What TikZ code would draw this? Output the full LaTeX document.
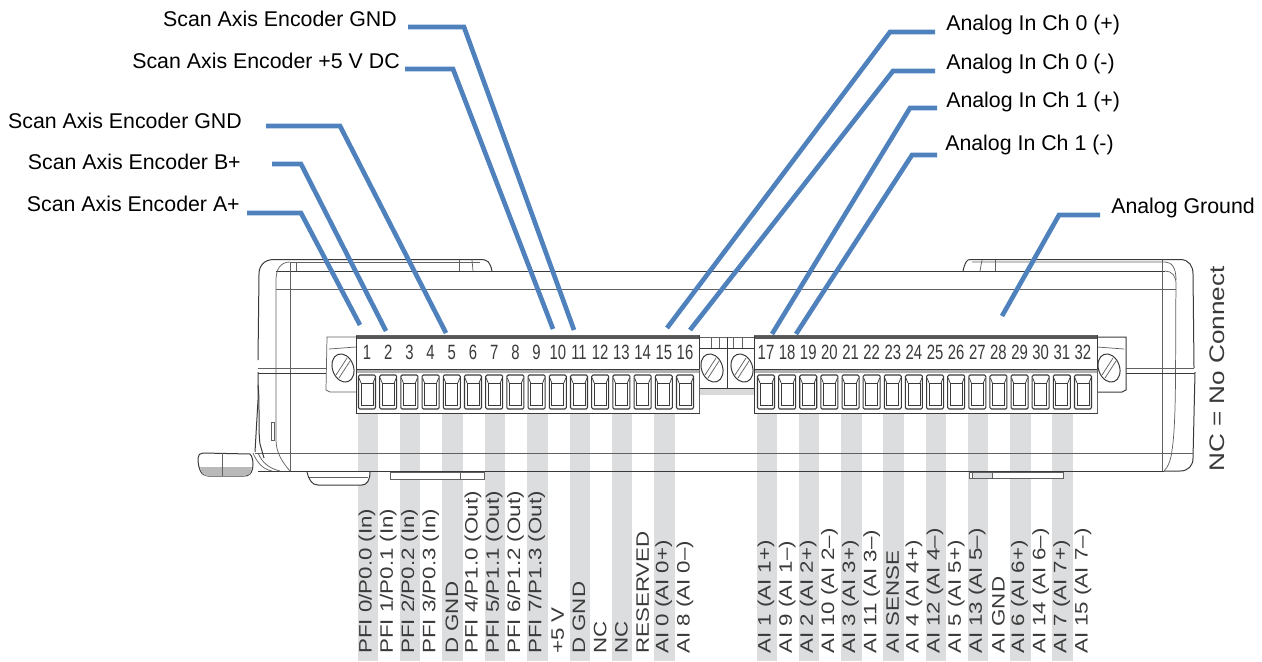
\documentclass[tikz,border=0pt]{standalone}
\usepackage{graphicx}
\usepackage{fontspec}
\setmainfont{Liberation Sans}
\definecolor{bandgray}{HTML}{DCDDDE}
\definecolor{leadblue}{HTML}{4F81BD}
\definecolor{inkgray}{HTML}{3A3A3A}
\newcommand{\stretchlab}[1]{\scalebox{1.24}[1]{#1}}
\newcommand{\pinnum}[1]{\scalebox{0.72}[1]{#1}}
\tikzset{
  lead/.style={draw=leadblue,line width=3.5pt},
  callout/.style={font=\fontsize{16pt}{18pt}\selectfont,inner sep=0pt,text=black},
  pinlabel/.style={font=\fontsize{13.5pt}{16pt}\selectfont,inner sep=0pt,rotate=90,anchor=west,text=inkgray},
  pinnumber/.style={font=\fontsize{15.5pt}{18pt}\selectfont,inner sep=0pt,text=inkgray},
  body/.style={draw=inkgray,line width=0.75pt},
  bodythin/.style={draw=inkgray!80,line width=0.55pt},
  band/.style={fill=bandgray,draw=none},
  term/.style={draw=inkgray,line width=0.8pt,rounded corners=1pt,fill=white},
  termin/.style={draw=inkgray,line width=0.55pt}
}
\begin{document}
\begin{tikzpicture}[x=0.75pt,y=-0.75pt]
\useasboundingbox (0,0) rectangle (1262,661);
% gray bands
\foreach \i in {1,3,...,15}{
  \pgfmathsetmacro{\px}{367+21.2*(\i-1)}
  \fill[band] (\px-9.5,413) rectangle (\px+11,661);
}
\foreach \i in {17,19,...,31}{
  \pgfmathsetmacro{\px}{766+21.13*(\i-17)}
  \fill[band] (\px-9.5,413) rectangle (\px+11,661);
}
% case outline
\draw[body] (492,271) .. controls (490,262) and (488,259.5) .. (480,259.5) -- (274,259.5)
  .. controls (264,259.5) and (259,266) .. (259,274) -- (258,360) ;
\draw[body] (258,372) -- (258,400) -- (255,452);
\draw[body] (970,259.5) -- (1180,259.5) .. controls (1189,259.5) and (1193,266) .. (1193,274)
  -- (1194,368);
\draw[body] (1195,372) -- (1193,458) .. controls (1193,466) and (1188,471) .. (1180,471) -- (1164,471);
\draw[body] (963,271) .. controls (965,262) and (967,259.5) .. (970,259.5);
\draw[body] (276,271) -- (1165,271);
\draw[bodythin] (276,289) -- (1176,289);
\draw[bodythin] (1165,271) .. controls (1172,271) and (1176,276) .. (1176,284) -- (1176,289);
\draw[bodythin] (290,262) .. controls (280,262) and (276,270) .. (276,280) -- (276,440) .. controls (276,452) and (282,462) .. (290,471);
\draw[bodythin] (290,262) -- (290,471);
\draw[bodythin] (296,262) -- (296,271);
\draw[bodythin] (459,260) -- (459,271);
\draw[bodythin] (472,260) -- (473,271);
\draw[bodythin] (290,262) -- (480,262);
\draw[bodythin] (972,262) -- (1165,262) .. controls (1172,262) and (1176,268) .. (1176,280);
\draw[bodythin] (982,260) -- (980,271);
\draw[bodythin] (995,260) -- (995,271);
\draw[bodythin] (1162,260) -- (1162,471);
\draw[bodythin] (1176,289) .. controls (1175,340) and (1177,420) .. (1172,450) .. controls (1171,460) and (1168,467) .. (1164,471);
\draw[bodythin] (258,368) -- (326,368);
\draw[body] (258,373) -- (326,373);
\draw[bodythin] (1126,368) -- (1194,368);
\draw[body] (1126,373) -- (1195,373);
\draw[bodythin] (255,453) -- (1193,453);
\draw[body] (258,471) -- (1164,471);
% left foot
\draw[body,fill=white] (198,458) .. controls (198,455) and (200,453) .. (203,453) -- (250,454)
  .. controls (254,458) and (254,470) .. (250,474) .. controls (248,476) and (246,476) .. (244,476) -- (208,476)
  .. controls (202,476) and (198,470) .. (198,458) -- cycle;
\fill[gray!55] (200,467) -- (252,467) -- (250,474) -- (244,476) -- (208,476) .. controls (203,476) and (201,472) .. (200,467) -- cycle;
\draw[bodythin] (222,453) -- (222,476);
\draw[bodythin] (253,453) .. controls (257,462) and (262,469) .. (272,471);
\draw[bodythin] (258,453) .. controls (262,462) and (268,468) .. (280,471);
\draw[body] (258,385) .. controls (260,400) and (258,430) .. (260,444) -- (264,458);
\draw[bodythin] (271,422) rectangle (274,440);
% bottom tabs
\draw[body,fill=white] (307,472) .. controls (309,480) and (312,485) .. (318,485) -- (362,485) .. controls (367,485) and (370,480) .. (370,472);
\draw[bodythin] (309,477) -- (368,477);
\draw[bodythin,fill=white] (390,472) rectangle (484,479);
\draw[bodythin] (460,472) -- (460,479);
\draw[bodythin,fill=white] (969,472) rectangle (1063,478);
\fill[bandgray] (972,472.5) rectangle (992,477.5);
\draw[bodythin] (972,472) -- (972,478);
\draw[bodythin] (992,472) -- (992,478);
% end housings
\draw[bodythin,fill=white] (356,337) -- (327,337) -- (326,390) -- (330,392) -- (356,392);
\draw[bodythin] (329,349) -- (356,347);
\draw[body,fill=white] (1097,337) -- (1126,337) -- (1126,390) -- (1122,392) -- (1097,392);
\draw[bodythin] (1097,347) -- (1124,349);
% centre housing
\draw[bodythin,fill=white] (699,337) rectangle (754,388);
\fill[gray!30] (699,388) rectangle (754,395);
\draw[body] (699,348) -- (754,348);
\draw[body] (699,388) -- (754,388);
\draw[body] (727,337) -- (727,388);
\foreach \x in {711,719,733,742}{\draw[bodythin] (\x,338) -- (\x,348);}
% screws
\foreach \sx in {343,712,742,1109}{
  \begin{scope}[shift={(\sx,368)},rotate=20]
    \draw[body,fill=white] (0,0) ellipse [x radius=10.5,y radius=14.5];
  \end{scope}
  \draw[bodythin] (\sx-7,375) -- (\sx+4,358);
  \draw[bodythin] (\sx-4,378) -- (\sx+7,361);
}
% terminal blocks
\foreach \xa/\xb in {356/699,754/1097}{
  \fill[white] (\xa,335) rectangle (\xb,413);
  \fill[inkgray!85] (\xa,335) rectangle (\xb,338.5);
  \fill[gray!60] (\xa,369) rectangle (\xb,373);
  \draw[body] (\xa,369) -- (\xb,369);
  \draw[body] (\xa,335) -- (\xa,413) -- (\xb,413) -- (\xb,335);
  \draw[bodythin] (\xa,335) -- (\xb,335);
  \draw[bodythin] (\xb,369) -- (\xb,413);
}
\foreach \i in {1,...,16}{
  \pgfmathsetmacro{\px}{367+21.2*(\i-1)}
  \draw[term] (\px-8.5,375) rectangle (\px+8.5,409);
  \draw[termin] (\px-6,383) rectangle (\px+6,405);
  \draw[termin] (\px-8,378) -- (\px-6,383) (\px+8,378) -- (\px+6,383);
  \node[pinnumber] (n\i) at (\px,352.5) {\pinnum{\i}};
}
\foreach \i in {17,...,32}{
  \pgfmathsetmacro{\px}{766+21.13*(\i-17)}
  \draw[term] (\px-8.5,375) rectangle (\px+8.5,409);
  \draw[termin] (\px-6,383) rectangle (\px+6,405);
  \draw[termin] (\px-8,378) -- (\px-6,383) (\px+8,378) -- (\px+6,383);
  \node[pinnumber] (n\i) at (\px,352.5) {\pinnum{\i}};
}
% rotated signal names
\foreach \i/\t in {1/{PFI 0/P0.0 (In)},2/{PFI 1/P0.1 (In)},3/{PFI 2/P0.2 (In)},4/{PFI 3/P0.3 (In)},5/{D GND},6/{PFI 4/P1.0 (Out)},7/{PFI 5/P1.1 (Out)},8/{PFI 6/P1.2 (Out)},9/{PFI 7/P1.3 (Out)},10/{+5 V},11/{D GND},12/{NC},13/{NC},14/{RESERVED},15/{AI 0 (AI 0+)},16/{AI 8 (AI 0--)}}{
  \pgfmathsetmacro{\px}{367+21.2*(\i-1)}
  \node[pinlabel] (s\i) at (\px,654) {\stretchlab{\t}};
}
\foreach \i/\t in {17/{AI 1 (AI 1+)},18/{AI 9 (AI 1--)},19/{AI 2 (AI 2+)},20/{AI 10 (AI 2--)},21/{AI 3 (AI 3+)},22/{AI 11 (AI 3--)},23/{AI SENSE},24/{AI 4 (AI 4+)},25/{AI 12 (AI 4--)},26/{AI 5 (AI 5+)},27/{AI 13 (AI 5--)},28/{AI GND},29/{AI 6 (AI 6+)},30/{AI 14 (AI 6--)},31/{AI 7 (AI 7+)},32/{AI 15 (AI 7--)}}{
  \pgfmathsetmacro{\px}{766+21.13*(\i-17)}
  \node[pinlabel] (s\i) at (\px,654) {\stretchlab{\t}};
}
\node[font=\fontsize{15.8pt}{18pt}\selectfont,inner sep=0pt,rotate=90,anchor=west,text=inkgray] (nc) at (1217,472) {\stretchlab{NC = No Connect}};
% callouts
\node[callout,anchor=east] (la) at (240,204) {Scan Axis Encoder A+};
\node[callout,anchor=east] (lb) at (241,162) {Scan Axis Encoder B+};
\node[callout,anchor=east] (lc) at (242,121) {Scan Axis Encoder GND};
\node[callout,anchor=east] (ld) at (400,61) {Scan Axis Encoder +5 V DC};
\node[callout,anchor=east] (le) at (397,18.5) {Scan Axis Encoder GND};
\node[callout,anchor=west] (lf) at (946,25) {Analog In Ch 0 (+)};
\node[callout,anchor=west] (lg) at (946,64) {Analog In Ch 0 (-)};
\node[callout,anchor=west] (lh) at (946,102) {Analog In Ch 1 (+)};
\node[callout,anchor=west] (li) at (945,145) {Analog In Ch 1 (-)};
\node[callout,anchor=west] (lj) at (1111,207.5) {Analog Ground};
% connector ends
\foreach \nm/\sx/\sy/\ex/\ey/\tx/\ty in {
  a/247/213/301/213/360/325,
  b/272/164/301/164/386/331,
  c/266/126/340/126/446/333,
  d/405/69/453/69/553/329,
  e/408/27/464/27/574/330,
  f/935/32/890/32/667/328,
  g/935/71/893/71/690/330,
  h/937/108/910/108/772/334,
  i/937/155/912/155/796/334,
  j/1100/215/1059/215/1002/316}{
  \coordinate (\nm0) at (\sx,\sy);
  \coordinate (\nm1) at (\ex,\ey);
  \coordinate (\nm2) at (\tx,\ty);
  \draw[lead] (\nm0) -- (\nm1) -- (\nm2);
}
\end{tikzpicture}
\end{document}
